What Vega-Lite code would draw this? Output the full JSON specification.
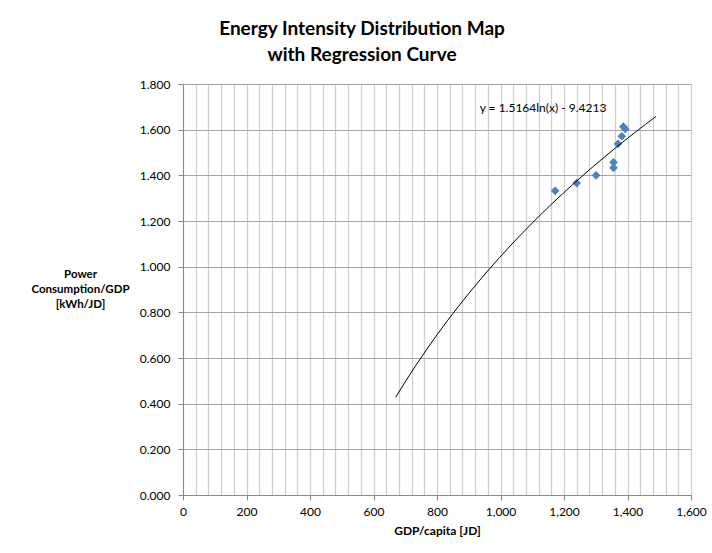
{
  "$schema": "https://vega.github.io/schema/vega-lite/v6.json",
  "width": 508,
  "height": 411,
  "autosize": {"type": "none"},
  "padding": {"left": 183, "top": 84, "right": 21, "bottom": 58},
  "background": "white",
  "config": {"view": {"stroke": null}, "font": "Lato"},
  "title": {
    "text": ["Energy Intensity Distribution  Map", "with Regression Curve"],
    "fontSize": 19,
    "fontWeight": "bold",
    "font": "Lato",
    "color": "#000000",
    "anchor": "middle",
    "dx": -75,
    "offset": 13,
    "lineHeight": 26
  },
  "data": {
    "values": [
      {"gdp": 1172, "power": 1.332},
      {"gdp": 1240, "power": 1.366},
      {"gdp": 1301, "power": 1.4},
      {"gdp": 1356, "power": 1.457},
      {"gdp": 1356, "power": 1.433},
      {"gdp": 1370, "power": 1.538},
      {"gdp": 1382, "power": 1.571},
      {"gdp": 1387, "power": 1.613},
      {"gdp": 1393, "power": 1.603}
    ]
  },
  "layer": [
    {
      "mark": {"type": "point", "shape": "diamond", "filled": true, "size": 75, "color": "#4F81BD", "opacity": 1},
      "encoding": {
        "x": {
          "field": "gdp",
          "type": "quantitative",
          "scale": {"domain": [0, 1600], "nice": false, "zero": false},
          "axis": {
            "title": "GDP/capita [JD]",
            "titleFont": "Lato",
            "titleFontSize": 12,
            "titleFontWeight": "bold",
            "titleColor": "#000000",
            "titlePadding": 8,
            "values": [0,40,80,120,160,200,240,280,320,360,400,440,480,520,560,600,640,680,720,760,800,840,880,920,960,1000,1040,1080,1120,1160,1200,1240,1280,1320,1360,1400,1440,1480,1520,1560,1600],
            "tickCount": 100,
            "labelExpr": "datum.value % 200 === 0 ? format(datum.value, ',') : ''",
            "labelFontSize": 12,
            "labelColor": "#000000",
            "labelPadding": 6,
            "labelFlush": false,
            "labelOverlap": false,
            "tickSize": 5,
            "tickColor": {"condition": {"test": "datum.value % 200 === 0", "value": "#888888"}, "value": "transparent"},
            "domainColor": "#888888",
            "grid": true,
            "gridColor": "#d0d0d0",
            "gridWidth": 1.3
          }
        },
        "y": {
          "field": "power",
          "type": "quantitative",
          "scale": {"domain": [0, 1.8], "nice": false},
          "axis": {
            "title": ["Power", "Consumption/GDP", "[kWh/JD]"],
            "titleFont": "Lato",
            "titleFontSize": 11.5,
            "titleFontWeight": "bold",
            "titleColor": "#000000",
            "titleAngle": 0,
            "titleAlign": "center",
            "titleBaseline": "top",
            "titleX": -103,
            "titleY": 184,
            "titleLineHeight": 15,
            "values": [0, 0.2, 0.4, 0.6, 0.8, 1.0, 1.2, 1.4, 1.6, 1.8],
            "tickCount": 20,
            "format": ".3f",
            "labelFontSize": 12,
            "labelColor": "#000000",
            "labelPadding": 8,
            "labelFlush": false,
            "tickSize": 5,
            "tickColor": "#888888",
            "domainColor": "#888888",
            "grid": true,
            "gridColor": "#a6a6a6",
            "gridWidth": 1.2
          }
        }
      }
    },
    {
      "transform": [{"regression": "power", "on": "gdp", "method": "log", "extent": [670, 1490]}],
      "mark": {"type": "line", "color": "#000000", "strokeWidth": 1},
      "encoding": {
        "x": {"field": "gdp", "type": "quantitative"},
        "y": {"field": "power", "type": "quantitative"}
      }
    },
    {
      "data": {"values": [{"label": "y = 1.5164ln(x) - 9.4213"}]},
      "mark": {"type": "text", "font": "Lato", "fontSize": 12, "color": "#000000", "align": "center", "baseline": "middle"},
      "encoding": {
        "x": {"datum": 1134},
        "y": {"datum": 1.695},
        "text": {"field": "label", "type": "nominal"}
      }
    }
  ]
}
